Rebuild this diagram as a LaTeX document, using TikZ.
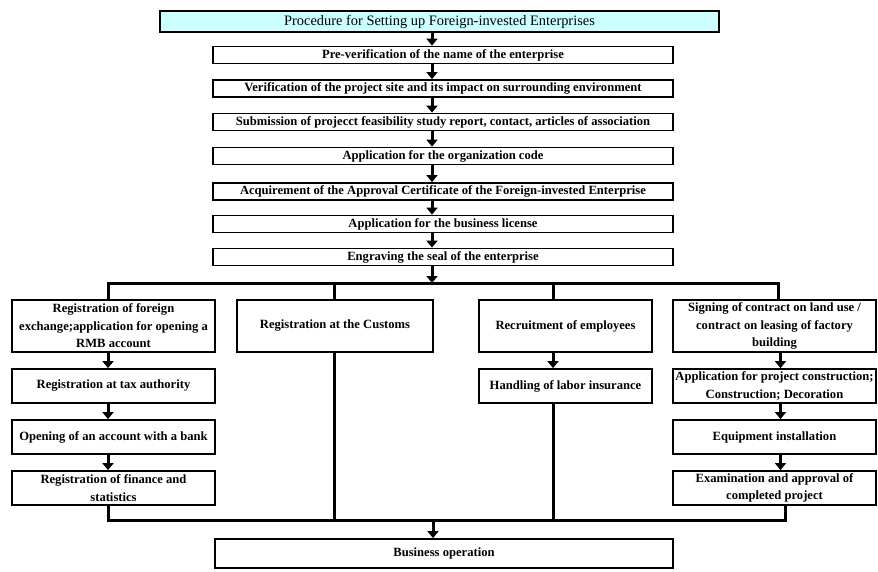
\documentclass[tikz,border=0pt]{standalone}
\usepackage{fontspec}
\setmainfont{Liberation Serif}
\usetikzlibrary{arrows.meta}
\definecolor{titlecyan}{RGB}{204,255,255}
\tikzset{
  box/.style={draw, line width=1.8pt, inner sep=0pt, align=center, minimum height=17pt,
    font=\fontsize{12.6}{17.5}\selectfont\bfseries},
  colbox/.style={box, minimum width=203pt, minimum height=52pt},
  smallbox/.style={box, minimum width=203pt, minimum height=34pt},
  arr/.style={line width=3pt, -{Triangle[width=11pt,length=7pt]}},
  link/.style={line width=3pt}
}
\begin{document}
\begin{tikzpicture}[x=1pt,y=-1pt]
\useasboundingbox (0,0) rectangle (878,571);

\node[box, fill=titlecyan, minimum width=559pt, minimum height=21pt,
  font=\fontsize{14.4}{16}\selectfont] (title) at (439.5,21.5) {Procedure for Setting up Foreign-invested Enterprises};
\node[box, minimum width=460pt] (b1) at (443,55) {Pre-verification of the name of the enterprise};
\node[box, minimum width=460pt] (b2) at (443,88.5) {Verification of the project site and its impact on surrounding environment};
\node[box, minimum width=460pt] (b3) at (443,122) {Submission of projecct feasibility study report, contact, articles of association};
\node[box, minimum width=460pt] (b4) at (443,156) {Application for the organization code};
\node[box, minimum width=460pt] (b5) at (443,191.5) {Acquirement of the Approval Certificate of the Foreign-invested Enterprise};
\node[box, minimum width=460pt] (b6) at (443,224) {Application for the business license};
\node[box, minimum width=460pt] (b7) at (443,257) {Engraving the seal of the enterprise};

\draw[arr] ([xshift=-7.5pt]title.south) -- ([xshift=-11pt]b1.north);
\draw[arr] ([xshift=-11pt]b1.south) -- ([xshift=-11pt]b2.north);
\draw[arr] ([xshift=-11pt]b2.south) -- ([xshift=-11pt]b3.north);
\draw[arr] ([xshift=-11pt]b3.south) -- ([xshift=-11pt]b4.north);
\draw[arr] ([xshift=-11pt]b4.south) -- ([xshift=-11pt]b5.north);
\draw[arr] ([xshift=-11pt]b5.south) -- ([xshift=-11pt]b6.north);
\draw[arr] ([xshift=-11pt]b6.south) -- ([xshift=-11pt]b7.north);

% four branches
\node[colbox] (c1a) at (113.5,326) {Registration of foreign\\exchange;application for opening a\\RMB account};
\node[smallbox] (c1b) at (113.5,386) {Registration at tax authority};
\node[smallbox] (c1c) at (113.5,437) {Opening of an account with a bank};
\node[smallbox] (c1d) at (113.5,488) {Registration of finance and\\statistics};

\node[colbox, minimum width=196pt] (c2) at (335,326) {Registration at the Customs};

\node[colbox, minimum width=173pt] (c3a) at (565.5,326) {Recruitment of employees};
\node[smallbox, minimum width=173pt] (c3b) at (565.5,386) {Handling of labor insurance};

\node[colbox] (c4a) at (774.5,326) {Signing of contract on land use /\\contract on leasing of factory\\building};
\node[smallbox] (c4b) at (774.5,386) {Application for project construction;\\Construction; Decoration};
\node[smallbox] (c4c) at (774.5,437) {Equipment installation};
\node[smallbox] (c4d) at (774.5,488) {Examination and approval of\\completed project};

\node[box, minimum width=458pt, minimum height=29pt] (biz) at (444,553.5) {Business operation};

\coordinate (split) at (432,283);
\coordinate (s1) at (108,283);
\coordinate (s2) at (334,283);
\coordinate (s3) at (553,283);
\coordinate (s4) at (778,283);
\draw[arr] ([xshift=-11pt]b7.south) -- (split);
\draw[link] (s1 |- c1a.north) -- (s1) -- (s4) -- (s4 |- c4a.north);
\draw[link] (s2) -- (s2 |- c2.north);
\draw[link] (s3) -- (s3 |- c3a.north);

\draw[arr] ([xshift=-5.5pt]c1a.south) -- ([xshift=-5.5pt]c1b.north);
\draw[arr] ([xshift=-5.5pt]c1b.south) -- ([xshift=-5.5pt]c1c.north);
\draw[arr] ([xshift=-5.5pt]c1c.south) -- ([xshift=-5.5pt]c1d.north);
\draw[arr] ([xshift=-12.5pt]c3a.south) -- ([xshift=-12.5pt]c3b.north);
\draw[arr] ([xshift=6pt]c4a.south) -- ([xshift=6pt]c4b.north);
\draw[arr] ([xshift=6pt]c4b.south) -- ([xshift=6pt]c4c.north);
\draw[arr] ([xshift=6pt]c4c.south) -- ([xshift=6pt]c4d.north);

\coordinate (merge) at (433,520);
\coordinate (m1) at (108,520);
\coordinate (m2) at (334,520);
\coordinate (m3) at (553,520);
\coordinate (m4) at (785,520);
\draw[link] (m1 |- c1d.south) -- (m1) -- (m4) -- (m4 |- c4d.south);
\draw[link] (m2 |- c2.south) -- (m2);
\draw[link] (m3 |- c3b.south) -- (m3);
\draw[arr] (merge) -- (merge |- biz.north);

\end{tikzpicture}
\end{document}
